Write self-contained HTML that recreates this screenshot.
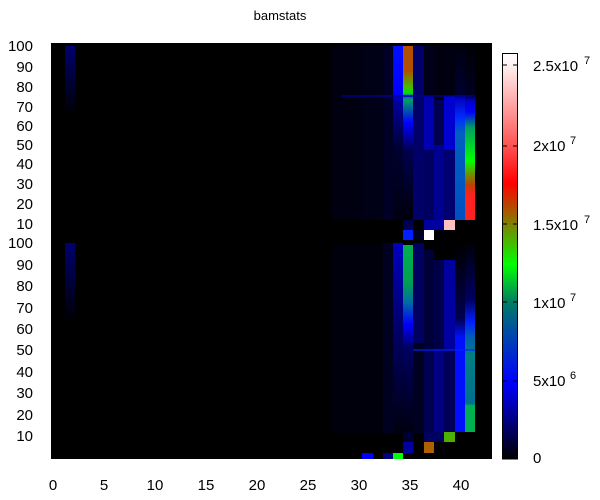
<!DOCTYPE html>
<html><head><style>
body{margin:0;background:#fff}
svg{display:block;font-family:"Liberation Sans",sans-serif}
</style></head><body>
<svg width="600" height="500" viewBox="0 0 600 500">
<defs>
<linearGradient id="cb" x1="0" y1="0" x2="0" y2="1">
<stop offset="0" stop-color="#ffffff"/>
<stop offset="0.03" stop-color="#fff0f0"/>
<stop offset="0.23" stop-color="#ff5050"/>
<stop offset="0.32" stop-color="#ff0000"/>
<stop offset="0.42" stop-color="#808000"/>
<stop offset="0.52" stop-color="#00ff00"/>
<stop offset="0.61" stop-color="#008060"/>
<stop offset="0.68" stop-color="#0050a0"/>
<stop offset="0.81" stop-color="#0000ff"/>
<stop offset="0.86" stop-color="#0000c0"/>
<stop offset="1" stop-color="#000000"/>
</linearGradient>
<linearGradient id="c2" x1="0" y1="0" x2="0" y2="1"><stop offset="0" stop-color="#000070"/><stop offset="1" stop-color="#000000"/></linearGradient>
<linearGradient id="t35" x1="0" y1="0" x2="0" y2="1">
<stop offset="0" stop-color="#b05000"/><stop offset="0.14" stop-color="#b05000"/><stop offset="0.24" stop-color="#40c000"/><stop offset="0.27" stop-color="#00e000"/><stop offset="0.29" stop-color="#2040ff"/><stop offset="0.31" stop-color="#00a060"/><stop offset="0.44" stop-color="#0000ff"/><stop offset="0.6" stop-color="#000050"/><stop offset="1" stop-color="#000008"/></linearGradient>
<linearGradient id="t34" x1="0" y1="0" x2="0" y2="1"><stop offset="0" stop-color="#0010ff"/><stop offset="0.27" stop-color="#0000ff"/><stop offset="0.32" stop-color="#0000a0"/><stop offset="0.6" stop-color="#000030"/><stop offset="1" stop-color="#000010"/></linearGradient>
<linearGradient id="t40" x1="0" y1="0" x2="0" y2="1"><stop offset="0" stop-color="#000010"/><stop offset="0.28" stop-color="#000030"/><stop offset="0.3" stop-color="#0000c0"/><stop offset="0.42" stop-color="#0030ff"/><stop offset="0.5" stop-color="#0060c0"/><stop offset="1" stop-color="#0050c0"/></linearGradient>
<linearGradient id="t41" x1="0" y1="0" x2="0" y2="1"><stop offset="0" stop-color="#000008"/><stop offset="0.29" stop-color="#000020"/><stop offset="0.31" stop-color="#0000c0"/><stop offset="0.38" stop-color="#0000ff"/><stop offset="0.47" stop-color="#00a060"/><stop offset="0.66" stop-color="#00ff00"/><stop offset="0.75" stop-color="#808000"/><stop offset="0.8" stop-color="#c04000"/><stop offset="0.86" stop-color="#ff2020"/><stop offset="1" stop-color="#ff2020"/></linearGradient>
<linearGradient id="b35" x1="0" y1="0" x2="0" y2="1"><stop offset="0" stop-color="#00b050"/><stop offset="0.2" stop-color="#00a050"/><stop offset="0.3" stop-color="#0070a0"/><stop offset="0.42" stop-color="#0000ff"/><stop offset="0.55" stop-color="#000060"/><stop offset="1" stop-color="#000010"/></linearGradient>
<linearGradient id="b34" x1="0" y1="0" x2="0" y2="1"><stop offset="0" stop-color="#0000c0"/><stop offset="0.5" stop-color="#000060"/><stop offset="1" stop-color="#000010"/></linearGradient>
<linearGradient id="b41" x1="0" y1="0" x2="0" y2="1"><stop offset="0" stop-color="#000008"/><stop offset="0.3" stop-color="#000060"/><stop offset="0.42" stop-color="#0020ff"/><stop offset="0.5" stop-color="#0060b0"/><stop offset="0.6" stop-color="#008080"/><stop offset="0.85" stop-color="#007090"/><stop offset="0.86" stop-color="#00b050"/><stop offset="1" stop-color="#00b050"/></linearGradient>
<linearGradient id="b40" x1="0" y1="0" x2="0" y2="1"><stop offset="0" stop-color="#000000"/><stop offset="0.4" stop-color="#000050"/><stop offset="0.5" stop-color="#0010ff"/><stop offset="1" stop-color="#0010ff"/></linearGradient>
<linearGradient id="fade" x1="0" y1="0" x2="0" y2="1"><stop offset="0" stop-color="#000080"/><stop offset="0.4" stop-color="#000080"/><stop offset="1" stop-color="#000040"/></linearGradient>
</defs>
<text x="280" y="20" font-size="13" text-anchor="middle" fill="#000">bamstats</text>
<rect x="51" y="43" width="441" height="416" fill="#000"/>
<rect x="65" y="46" width="10" height="70" fill="url(#c2)"/>
<rect x="65" y="243" width="10" height="80" fill="url(#c2)"/>
<g opacity="0.8">
<rect x="332" y="46" width="61" height="174" fill="#000014"/>
<rect x="362" y="46" width="31" height="174" fill="#00001c"/>
<rect x="383" y="46" width="10" height="174" fill="#000030"/>
<rect x="332" y="243" width="61" height="190" fill="#000010"/>
<rect x="383" y="243" width="10" height="190" fill="#000028"/>
</g>
<rect x="393" y="46" width="10" height="174" fill="url(#t34)"/>
<rect x="403" y="46" width="10" height="174" fill="url(#t35)"/>
<rect x="413" y="46" width="11" height="174" fill="#000068"/>
<rect x="424" y="46" width="10" height="50" fill="#000018"/>
<rect x="424" y="96" width="10" height="54" fill="#0000b0"/>
<rect x="424" y="150" width="10" height="70" fill="#000060"/>
<rect x="434" y="46" width="10" height="54" fill="#000010"/>
<rect x="434" y="100" width="10" height="45" fill="#000050"/>
<rect x="434" y="145" width="10" height="75" fill="#000090"/>
<rect x="444" y="46" width="11" height="50" fill="#000010"/>
<rect x="444" y="96" width="11" height="54" fill="#0000d0"/>
<rect x="444" y="150" width="11" height="70" fill="#000070"/>
<rect x="455" y="46" width="10" height="174" fill="url(#t40)"/>
<rect x="465" y="46" width="10" height="174" fill="url(#t41)"/>
<rect x="342" y="95" width="133" height="2" fill="#000090" opacity="0.7"/>
<rect x="403" y="220" width="10" height="10" fill="#000050"/>
<rect x="403" y="230" width="10" height="10" fill="#0020ff"/>
<rect x="413" y="230" width="11" height="10" fill="#000020"/>
<rect x="424" y="220" width="10" height="10" fill="#0000a0"/>
<rect x="424" y="230" width="10" height="10" fill="#ffffff"/>
<rect x="434" y="220" width="10" height="10" fill="#0000a0"/>
<rect x="444" y="220" width="11" height="10" fill="#ffc0c0"/>
<rect x="393" y="243" width="10" height="190" fill="url(#b34)"/>
<rect x="403" y="245" width="10" height="188" fill="url(#b35)"/>
<rect x="413" y="243" width="11" height="100" fill="#000060"/>
<rect x="413" y="343" width="11" height="90" fill="#000020"/>
<rect x="424" y="250" width="10" height="100" fill="#000038"/>
<rect x="424" y="350" width="10" height="82" fill="#000050"/>
<rect x="434" y="260" width="10" height="90" fill="#000048"/>
<rect x="434" y="350" width="10" height="82" fill="#000080"/>
<rect x="444" y="260" width="11" height="90" fill="#0000a0"/>
<rect x="444" y="350" width="11" height="82" fill="#000058"/>
<rect x="455" y="243" width="10" height="189" fill="url(#b40)"/>
<rect x="465" y="243" width="10" height="189" fill="url(#b41)"/>
<rect x="413" y="349" width="62" height="2" fill="#0020ff" opacity="0.6"/>
<rect x="403" y="432" width="10" height="10" fill="#000030"/>
<rect x="403" y="442" width="10" height="11" fill="#0000a0"/>
<rect x="424" y="432" width="10" height="10" fill="#000060"/>
<rect x="434" y="432" width="10" height="10" fill="#000060"/>
<rect x="424" y="442" width="10" height="11" fill="#b06000"/>
<rect x="444" y="432" width="11" height="10" fill="#50b000"/>
<rect x="362" y="453" width="11" height="6" fill="#0000ff"/>
<rect x="393" y="453" width="10" height="6" fill="#00ff00"/>
<rect x="383" y="453" width="10" height="6" fill="#000080"/>
<g font-size="15" text-anchor="end" fill="#000">
<text x="33" y="51">100</text><text x="33" y="72">90</text><text x="33" y="92">80</text><text x="33" y="112">70</text><text x="33" y="131">60</text><text x="33" y="150">50</text><text x="33" y="169">40</text><text x="33" y="189">30</text><text x="33" y="209">20</text><text x="33" y="229">10</text>
<text x="33" y="248">100</text><text x="33" y="270">90</text><text x="33" y="291">80</text><text x="33" y="313">70</text><text x="33" y="334">60</text><text x="33" y="355">50</text><text x="33" y="377">40</text><text x="33" y="398">30</text><text x="33" y="420">20</text><text x="33" y="441">10</text>
</g>
<g font-size="15" text-anchor="middle" fill="#000">
<text x="53" y="490">0</text><text x="104" y="490">5</text><text x="155" y="490">10</text><text x="206" y="490">15</text><text x="257" y="490">20</text><text x="308" y="490">25</text><text x="359" y="490">30</text><text x="410" y="490">35</text><text x="461" y="490">40</text>
</g>
<rect x="502.5" y="53.5" width="15" height="405.5" fill="url(#cb)" stroke="#000" stroke-width="1"/>
<g stroke="#000" stroke-width="1">
<path d="M502 65h5M513 65h5M502 146h5M513 146h5M502 224h5M513 224h5M502 302h5M513 302h5M502 381h5M513 381h5"/>
</g>
<g font-size="15" fill="#000">
<text x="533" y="71">2.5x10</text><text x="584" y="64" font-size="11">7</text>
<text x="533" y="151">2x10</text><text x="570" y="144" font-size="11">7</text>
<text x="533" y="230">1.5x10</text><text x="584" y="223" font-size="11">7</text>
<text x="533" y="308">1x10</text><text x="570" y="301" font-size="11">7</text>
<text x="533" y="386">5x10</text><text x="570" y="379" font-size="11">6</text>
<text x="533" y="463">0</text>
</g>
</svg>
</body></html>
